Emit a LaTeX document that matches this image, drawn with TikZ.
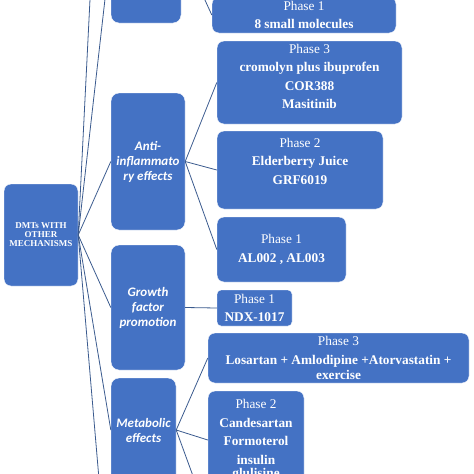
\documentclass[tikz,border=0pt]{standalone}
\usepackage{fontspec}
\setmainfont{Liberation Serif}
\newfontfamily\catfont{Carlito}
\usepackage{tikz}
\usetikzlibrary{positioning}
\usepackage{xcolor}
\definecolor{boxblue}{HTML}{4472C4}
\definecolor{linkblue}{HTML}{3A5A8E}
\newcommand{\drug}[1]{\textbf{#1}}

\tikzset{
  anybox/.style={draw=white,line width=0.4pt,fill=boxblue,text=white,rounded corners=7pt,align=center,inner sep=2pt},
  rootbox/.style={anybox,minimum width=74pt,minimum height=102pt,font=\fontsize{9}{9}\selectfont\bfseries},
  catbox/.style={anybox,rounded corners=8pt,font=\catfont\fontsize{13}{15}\selectfont\bfseries\itshape},
  phasebox/.style={anybox,font=\fontsize{13.3}{18.5}\selectfont},
  link/.style={draw=linkblue,line width=0.8pt}
}

\begin{document}
\begin{tikzpicture}[x=1pt,y=-1pt]
\useasboundingbox (0,0) rectangle (474,474);
\clip (0,0) rectangle (474,474);
% root
\node[rootbox] (root) at (41,235) {DMTs WITH\\OTHER\\MECHANISMS};
% mechanism boxes
\node[catbox,minimum width=70pt,minimum height=150pt] (upcat) at (146,-52) {};
\node[catbox,minimum width=74pt,minimum height=137pt] (anti) at (148,161.5) {Anti-\\inflammato\\ry effects};
\node[catbox,minimum width=74pt,minimum height=125pt] (growth) at (148,307.5) {Growth\\factor\\promotion};
\node[catbox,minimum width=65pt,minimum height=104pt] (metab) at (143.5,430) {Metabolic\\effects};
\coordinate (upper) at (111,-420);
\coordinate (lower) at (111,620);
% trial boxes
\node[phasebox,minimum width=184pt,minimum height=36pt] (smallmol) at (304,15) {Phase 1\\\drug{8 small molecules}};
\node[phasebox,minimum width=185pt,minimum height=83pt] (antiIII) at (309.5,82.5) {Phase 3\\\drug{cromolyn plus ibuprofen}\\\drug{COR388}\\\drug{Masitinib}\\[-6.5pt]\mbox{}};
\node[phasebox,minimum width=166pt,minimum height=78pt] (antiII) at (300,170) {Phase 2\\\drug{Elderberry Juice}\\\drug{GRF6019}\\[-0.5pt]\mbox{}};
\node[phasebox,minimum width=129pt,minimum height=65pt] (antiI) at (281.5,249.5) {Phase 1\\\drug{AL002 , AL003}};
\node[phasebox,minimum width=75pt,minimum height=36pt,rounded corners=4pt] (ndx) at (254.5,308) {Phase 1\\\drug{NDX-1017}};
\node[phasebox,minimum width=261pt,minimum height=50pt] (metabIII) at (338.5,358) {Phase 3\\\drug{Losartan + Amlodipine +Atorvastatin +}\\[-3.5pt]\drug{exercise}};
\node[phasebox,minimum width=96pt,minimum height=98pt] (metabII) at (256,440) {Phase 2\\\drug{Candesartan}\\\drug{Formoterol}\\\drug{insulin}\\[-5pt]\drug{glulisine}};
\coordinate (metablow) at (208,517);
% connectors
\draw[link] (root.east) -- (upper);
\draw[link] (root.east) -- (upcat.west);
\draw[link] (root.east) -- (anti.west);
\draw[link] (root.east) -- (growth.west);
\draw[link] (root.east) -- (metab.west);
\draw[link] (root.east) -- (lower);
\draw[link] (upcat.east) -- (smallmol.west);
\draw[link] (anti.east) -- (antiIII.west);
\draw[link] (anti.east) -- (antiII.west);
\draw[link] (anti.east) -- (antiI.west);
\draw[link] (growth.east) -- (ndx.west);
\draw[link] (metab.east) -- (metabIII.west);
\draw[link] (metab.east) -- (metabII.west);
\draw[link] (metab.east) -- (metablow);
\end{tikzpicture}
\end{document}
